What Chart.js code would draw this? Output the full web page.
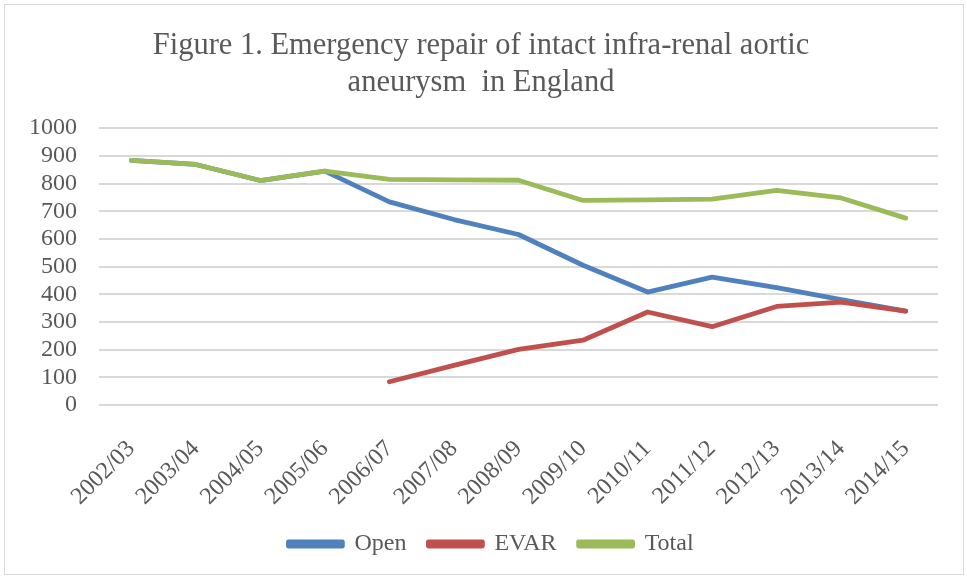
<!DOCTYPE html>
<html>
<head>
<meta charset="utf-8">
<script src="https://cdn.jsdelivr.net/npm/chart.js@4.4.1/dist/chart.umd.min.js"></script>
<style>
  html, body { margin: 0; padding: 0; background: #fff; }
  #wrap { position: absolute; left: 4px; top: 4px; width: 960px; height: 571px; border: 1px solid #d9d9d9; box-sizing: border-box; }
  #chart { position: absolute; left: 0; top: 0; }
</style>
</head>
<body>
<div id="wrap"></div>
<canvas id="chart" width="967" height="578"></canvas>
<script>
// data
var years = ["2002/03", "2003/04", "2004/05", "2005/06", "2006/07", "2007/08", "2008/09",
             "2009/10", "2010/11", "2011/12", "2012/13", "2013/14", "2014/15"];
var openRepair = [884, 869, 811, 845, 734, 670, 616, 505, 408, 462, 424, 381, 339];
var evarRepair = [null, null, null, null, 84, 143, 201, 234, 336, 283, 356, 372, 339];
var totalRepair = [884, 869, 811, 845, 815, 813, 812, 739, 741, 744, 775, 748, 675];
var yTicks = [0, 100, 200, 300, 400, 500, 600, 700, 800, 900, 1000];

var color = {
    blue: '#4f81bd',
    red: '#c0504d',
    green: '#9bbb59',
    grid: '#d9d9d9',
    text: '#595959'
};
var fontFamily = "'Liberation Serif', 'DejaVu Serif', serif";

function lineSet(label, data, c, order) {
    return {
        label: label,
        data: data,
        order: order,
        borderColor: c,
        backgroundColor: c,
        borderWidth: 4.8,
        pointRadius: 0,
        tension: 0,
        borderCapStyle: 'round',
        borderJoinStyle: 'round',
        spanGaps: false
    };
}

// legend sits a little right of centre in the original
var legendShift = {
    id: 'legendShift',
    afterLayout: function (chart) {
        chart.legend.left += 10;
        chart.legend.right += 10;
    }
};

var ctx = document.getElementById("chart");
Chart.defaults.font.family = fontFamily;
Chart.defaults.color = color.text;

new Chart(ctx, {
    type: 'line',
    data: {
        labels: years,
        datasets: [
            lineSet('Open', openRepair, color.blue, 3),
            lineSet('EVAR', evarRepair, color.red, 2),
            lineSet('Total', totalRepair, color.green, 1)
        ]
    },
    plugins: [legendShift],
    options: {
        responsive: false,
        animation: false,
        layout: { padding: { left: 24, right: 29, top: 28, bottom: 12 } },
        plugins: {
            title: {
                display: true,
                text: ['Figure 1. Emergency repair of intact infra-renal aortic', 'aneurysm  in England'],
                font: { size: 30.5, weight: 'normal' },
                color: color.text,
                lineHeight: 1.12,
                padding: { top: 0, bottom: 27 }
            },
            legend: {
                position: 'bottom',
                labels: {
                    boxWidth: 54,
                    boxHeight: 4,
                    font: { size: 24 },
                    color: color.text,
                    padding: 22,
                    sort: function (a, b) { return a.datasetIndex - b.datasetIndex; }
                }
            },
            tooltip: { enabled: false }
        },
        scales: {
            x: {
                offset: true,
                grid: { display: false },
                border: { display: false },
                ticks: {
                    minRotation: 45,
                    maxRotation: 45,
                    autoSkip: false,
                    font: { size: 24 },
                    color: color.text,
                    padding: 22
                },
                afterFit: function (axis) {
                    axis.paddingLeft = 0;
                    axis.paddingRight = 0;
                    axis.height = 105;
                }
            },
            y: {
                min: 0,
                max: 1000,
                afterBuildTicks: function (axis) {
                    axis.ticks = yTicks.map(function (v) { return { value: v }; });
                },
                afterFit: function (axis) {
                    axis.width = 75;
                },
                grid: { color: color.grid, lineWidth: 2, drawTicks: false },
                border: { display: false },
                ticks: {
                    autoSkip: false,
                    font: { size: 24 },
                    color: color.text,
                    padding: 22,
                    callback: function (v) { return String(v); }
                }
            }
        }
    }
});
</script>
</body>
</html>
